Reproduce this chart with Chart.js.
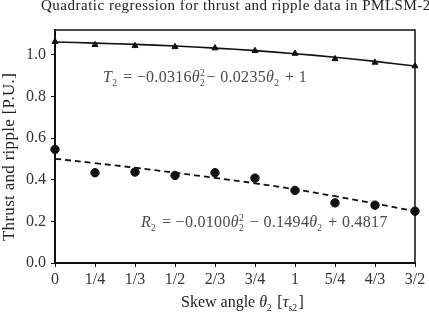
<!DOCTYPE html>
<html>
<head>
<meta charset="utf-8">
<script src="https://cdn.jsdelivr.net/npm/chart.js@4/dist/chart.umd.min.js"></script>
<style>
  html, body { margin: 0; padding: 0; background: #fff; }
  #wrap { position: relative; width: 429px; height: 332px; }
</style>
</head>
<body>
<div id="wrap"><canvas id="chart" width="429" height="332"></canvas></div>
<script>
const skewLabels = ['0', '1/4', '1/3', '1/2', '2/3', '3/4', '1', '5/4', '4/3', '3/2'];
const thrustData = [1.064, 1.049, 1.044, 1.039, 1.033, 1.020, 1.007, 0.981, 0.964, 0.947];
const thrustFit = [1.062, 1.057, 1.051, 1.043, 1.033, 1.021, 1.006, 0.989, 0.969, 0.947];
const rippleData = [0.546, 0.434, 0.437, 0.421, 0.434, 0.408, 0.349, 0.289, 0.278, 0.249];
const rippleFit = [0.501, 0.480, 0.458, 0.434, 0.409, 0.383, 0.354, 0.321, 0.286, 0.249];
const yTicks = [0, 0.2, 0.4, 0.6, 0.8, 1.0];

const serif = '"Liberation Serif", "DejaVu Serif", serif';

// draws text with italic / subscript / superscript pieces
function drawRich(ctx, parts, x, y, size) {
    parts.forEach(p => {
        if (p.sub || p.sup) {
            ctx.font = `${size * 0.6}px ${serif}`;
            let w = 0;
            if (p.sub) {
                ctx.fillText(p.sub, x, y + size * 0.28);
                w = ctx.measureText(p.sub).width;
            }
            if (p.sup) {
                ctx.fillText(p.sup, x, y - size * 0.38);
                w = Math.max(w, ctx.measureText(p.sup).width);
            }
            x += w + 1.5;
        } else {
            ctx.font = `${p.it ? 'italic ' : ''}${size}px ${serif}`;
            ctx.fillText(p.t, x, y);
            x += ctx.measureText(p.t).width;
        }
    });
}

const textPlugin = {
    id: 'textPlugin',
    afterDraw(chart) {
        const ctx = chart.ctx;
        const a = chart.chartArea;
        ctx.save();

        // frame
        ctx.strokeStyle = '#111';
        ctx.lineWidth = 1.5;
        ctx.strokeRect(a.left, a.top, a.right - a.left, a.bottom - a.top);

        ctx.textBaseline = 'alphabetic';
        ctx.textAlign = 'left';

        // title (clipped on the right like the original)
        ctx.fillStyle = '#222';
        ctx.font = `15px ${serif}`;
        ctx.letterSpacing = '0.5px';
        ctx.fillText('Quadratic regression for thrust and ripple data in PMLSM-2', 41, 10);

        // regression equations
        ctx.fillStyle = '#4a4a4a';
        ctx.letterSpacing = '0.3px';
        drawRich(ctx, [
            { t: 'T', it: true }, { sub: '2' },
            { t: ' = −0.0316' }, { t: 'θ', it: true }, { sub: '2', sup: '2' },
            { t: '− 0.0235' }, { t: 'θ', it: true }, { sub: '2' },
            { t: ' + 1' }
        ], 103, 82, 16);
        drawRich(ctx, [
            { t: 'R', it: true }, { sub: '2' },
            { t: ' = −0.0100' }, { t: 'θ', it: true }, { sub: '2', sup: '2' },
            { t: ' − 0.1494' }, { t: 'θ', it: true }, { sub: '2' },
            { t: ' + 0.4817' }
        ], 141, 227, 16);
        ctx.letterSpacing = '0px';

        // x axis title
        ctx.fillStyle = '#222';
        drawRich(ctx, [
            { t: 'Skew angle ' }, { t: 'θ', it: true }, { sub: '2' },
            { t: ' [' }, { t: 'τ', it: true }, { sub: 's2' }, { t: ']' }
        ], 181, 307, 16);

        // y axis title
        ctx.translate(14, 157);
        ctx.rotate(-Math.PI / 2);
        ctx.textAlign = 'center';
        ctx.font = `17px ${serif}`;
        ctx.letterSpacing = '0.3px';
        ctx.fillText('Thrust and ripple [P.U.]', 0, 0);

        ctx.restore();
    }
};

const ctx = document.getElementById('chart').getContext('2d');
const chart = new Chart(ctx, {
    type: 'line',
    data: {
        labels: skewLabels,
        datasets: [
            {
                label: 'Thrust fit',
                data: thrustFit,
                borderColor: '#111',
                borderWidth: 1.6,
                pointRadius: 0,
                tension: 0.4,
                clip: false
            },
            {
                label: 'Thrust',
                data: thrustData,
                showLine: false,
                pointStyle: 'triangle',
                pointRadius: 3.5,
                backgroundColor: '#111',
                borderColor: '#111',
                borderWidth: 1,
                clip: false
            },
            {
                label: 'Ripple fit',
                data: rippleFit,
                borderColor: '#111',
                borderWidth: 1.8,
                borderDash: [6, 4],
                pointRadius: 0,
                tension: 0.4,
                clip: false
            },
            {
                label: 'Ripple',
                data: rippleData,
                showLine: false,
                pointStyle: 'circle',
                pointRadius: 4.2,
                backgroundColor: '#111',
                borderColor: '#111',
                borderWidth: 1,
                clip: false
            }
        ]
    },
    options: {
        responsive: false,
        animation: false,
        devicePixelRatio: 1,
        layout: { padding: { top: 30, right: 14, left: 0, bottom: 0 } },
        plugins: {
            legend: { display: false },
            tooltip: { enabled: false }
        },
        scales: {
            x: {
                offset: false,
                afterFit: s => { s.height = 69; },
                grid: { drawOnChartArea: false, drawTicks: true, tickLength: 4, color: '#111' },
                border: { color: '#111', width: 2 },
                ticks: {
                    color: '#333',
                    padding: 3,
                    maxRotation: 0,
                    autoSkip: false,
                    font: { family: serif, size: 16 }
                }
            },
            y: {
                min: 0,
                max: 1.12,
                afterFit: s => { s.width = 55; },
                afterBuildTicks: s => { s.ticks = yTicks.map(v => ({ value: v })); },
                grid: { drawOnChartArea: false, drawTicks: true, tickLength: 4, color: '#111' },
                border: { color: '#111', width: 2 },
                ticks: {
                    color: '#333',
                    padding: 5,
                    font: { family: serif, size: 16 },
                    callback: v => v.toFixed(1)
                }
            }
        }
    },
    plugins: [textPlugin]
});
</script>
</body>
</html>
